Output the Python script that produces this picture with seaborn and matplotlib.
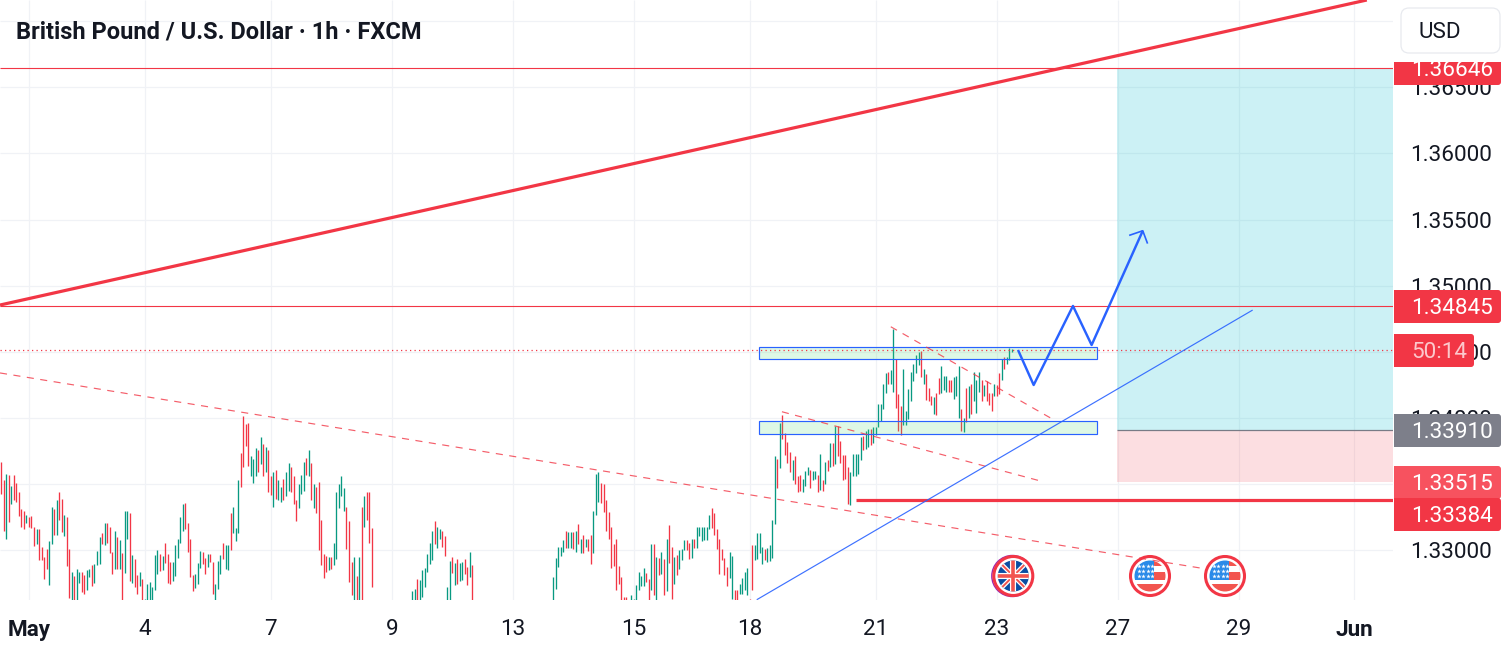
import matplotlib
matplotlib.use("Agg")
import matplotlib.pyplot as plt
from matplotlib.patches import Circle, FancyBboxPatch, Rectangle
import pandas as pd
import seaborn as sns

sns.set_theme(style="white")
plt.rcParams["font.family"] = ["Roboto", "DejaVu Sans"]
plt.rcParams["lines.solid_capstyle"] = "butt"

TEXT = "#131722"
RED = "#f23645"
GREEN = "#089981"
BLUE = "#2962ff"
GRID = "#f0f2f6"
LABEL_SIZE = 16.2

# hourly bars: pips above 1.33000, R/G = direction
start_a = 0
high_a = [66.5, 53, 58, 57, 49, 57, 51, 44.5, 31, 30, 27, 25, 26, 18, 16, 16, 2.5, -5, 1, 7, 32.5, 31, 38, 44.5, 39, 26.5, 25, 1, -16, -19,
          -14, -16, -16, -18.5, -15, -14, -11, -10, -0.5, 10, 13, 21, 20.5, 17.5, -1, 15, 10, 8, -2, 30, 29.5, 28, -3.5, -6.5, -18.5, -16, -21.5, -36.5, -25, -24,
          -27.5, -3.5, 0, -3, -4, 6, -3, -9, -9, 4, 9, 25, 35, 35.5, 21, 9, -18.5, -18, -9.5, -0.5, -1, -6, -3, -3, -9, -25, -8, -3.5, 5.5, 4,
          4, 28, 33, 17, 53.5, 74, 101.5, 95.5, 96, 71.5, 69, 77.5, 76, 86, 80.5, 78, 76, 56, 59.5, 61, 53, 48, 54, 59.5, 66, 63, 56.5, 38.5, 50.5, 57,
          67, 70, 76, 66, 50.5, 48, 52, 23, -3, -4, -5, -5, 6, 44, 50.5, 56, 47, 32.5, 22, -9, -5, -19, -5, 32.5, 41.5, 44, 44.5, 17, -15, -33]
low_a = [42.5, 15, 9, 21.5, 35, 38, 36.5, 26, 18, 16, 21, 18, 17, 3.5, 5, -7, -7, -21.5, -14, -26, 5, 12, 11.5, 23, 14, 11, -12, -36, -42, -42,
         -42, -24.5, -31, -33, -30, -20, -27, -24.5, -11, -10, 5, 4, 5.5, -2, -18, -14, -14, -14, -42, -17, 9, -23, -24.5, -27.5, -33, -27, -42, -42, -42, -42,
         -42, -30, -18, -15.5, -15, -9.5, -24.5, -25, -23, -19, -6, 5.5, 15, 16, -1, -20, -30.5, -28, -25, -13, -10, -18, -12.5, -9, -33, -42, -29, -18, -6.5, -14,
         -15, 0, 13, 7, 13, 48, 63, 79, 64, 56, 51, 56, 59, 65, 56, 59.5, 44, 42, 32.5, 39, 38, 37, 38, 41.5, 45, 44, 35, 22, 32, 43,
         45, 57, 56.5, 38, 32, 28, 0, -11, -21, -16, -15, -14, -11, -6.5, 32, 41, 30, 1, -24, -33.5, -42, -42, -42, -42, 18, 23, 6, -27.5, -42, -42]
dir_a = ("RRGRGRRRRRGRRRGRRRRGGRGRRGRRGRGGRRGGRGGGRGRRRGRGRGGRGRRGRGGGGGGRGRRRGGGGGRRRRGGGRRGRRGGGRGGRG"
         "GGRRRRGGGRGRGRRGRGGRGGRRRGGGRGRGRRRRRGRGGGGGRRRGRGRGRRR")

start_b = 163
high_b = [-30.5, -29, -21.5, -22, -15, -13, -3, 6, 15, 22, 17.5, 16.5, 15, 11, -27.5, -8, -5, -9.5, -6.5, -9.5, -9, -6.5, -12.5, -1, -11]
low_b = [-42, -42, -42, -42, -35, -27.5, -16, -10, -7, 5, 2, 9, 2.5, -4, -42, -42, -17, -26, -25, -23, -22, -18, -26, -20, -42]
dir_b = "GGRGGGGGGRGGRRGGRGRGGRRGR"

start_c = 219
high_c = [-20, -6, 3, 2.5, 8, 15, 14, 14, 14, 15, 20, 9, 11.5, 9, 8.5, 11.5, 30, 58, 59.5, 51, 50, 38.5, 29, 18, 5, 9, -12, -20, -35, -35,
          -38, -34, -37, -26, -16, -19, -13, -17, -21.5, 5, 5, -5, -6, -1, -6.5, 8.5, 19, 3, -5, -3.5, 0, 1, 8, 8, 5.5, 8.5, 9, 17.5, 18, 17.5,
          17.5, 18, 27, 32, 28, 16, 8.5, 1, -6, -12.5, -1, -4, -30, -30, -25, -21, -16, -13, -37, 4, 4, 13, 13, 3, 1, 2, 4]
low_c = [-42, -29, -12.5, -4, -1, 2, 2, 2, 1, -1, 5, -2, -2, 2.5, -0.5, -10, -2, 26.5, 37, 35.5, 29, 15, 9, -13, -12, -30, -25, -42, -42, -42,
         -42, -42, -42, -42, -30, -27, -27, -23.5, -42, -30, -33.5, -42, -18.5, -18, -33.5, -30.5, -9.5, -36.5, -25, -18.5, -14, -7, 0, 0, -6.5, -6, 2, 2, 11, 7,
         8, 8, 16, 17, 11.5, 1, -18, -7, -18.5, -27, -21, -37, -42, -42, -33, -33, -30, -34, -42, -30, -7, -6.5, -2, -10, -7, -9, -8]
dir_c = ("GGGGGRGGRGRGRGRRGGGRRRRRRRRRRRGGGGGGGRRGRGRGRGRRGRGGGRRGRGGGGGGRRRRRRRGGRRGGGGRRGGGGRGGGG")[:87]

start_d = 306
high_d = [23, 71.5, 69, 96.5, 102, 89, 82, 74.5, 68.5, 71.5, 56.5, 57, 54, 60, 63, 61, 60, 60, 57, 73, 53.5, 67, 68.5, 81, 81, 94, 94, 83, 72, 72,
          63, 59, 73, 73, 73, 86, 86.5, 90, 92, 92, 93, 93, 110.5, 111, 125.5, 134, 134.5, 136, 167, 145, 118, 109, 137, 105, 122, 135, 141, 148, 150, 151,
          137, 133.5, 122.5, 117, 116, 119, 130, 139, 131.5, 132, 129, 129, 131, 131.5, 139, 107, 100, 122.5, 124, 126, 135, 128.5, 135, 129, 125, 128, 119, 119, 125.5, 125,
          134, 145, 146.5, 146.5, 153, 152]
low_d = [-6, 20, 47.5, 62, 84, 72, 66, 59.5, 53, 50, 44.5, 45, 44, 49, 57, 47.5, 53, 54, 44, 46, 45, 50.5, 60, 63, 64, 65, 71.5, 66, 53, 54,
         35, 34, 56, 56.5, 58, 68.5, 76, 77, 78, 80, 81, 87, 93, 98, 107, 119, 125.5, 125.5, 120, 108, 90, 87, 95, 95, 99, 113, 128, 134, 140, 131,
         125.5, 114, 113, 110, 103, 102, 118, 119, 121.5, 120, 120, 120, 114.5, 117, 100, 90, 89.5, 97, 100, 103, 113, 104, 120, 113, 116.5, 113, 110, 105, 116.5, 117,
         118, 128.5, 137, 141, 144, 150]
dir_d = ("GGRGRRRRGRRRGGGRGGRGRGRGRGRRRR"
         "RGGGGGRGGRGGGGGGRGGRRRGGGGGGGRGRR"
         "RGRRGGGRRGGGRGRGRGGGRGRRRGRRGR"
         "GGGGGR")[:96]

# price levels and drawings (bar number, price)
stop_level = 1.33515
entry_level = 1.33910
target_level = 1.36646
resistance_level = 1.34845
support_level = 1.33384
live_price = 1.34511
rising_bars = [-0.5, 541.9]
rising_prices = [1.34854, 1.37158]
dash_long_bars = [-0.5, 475.7]
dash_long_prices = [1.34341, 1.32868]
dash_mid_bars = [309.8, 411.6]
dash_mid_prices = [1.34048, 1.33529]
dash_top_bars = [353, 418.5]
dash_top_prices = [1.34690, 1.33978]
blue_bars = [299.8, 496.6]
blue_prices = [1.32628, 1.34816]
path_bars = [403.5, 409.7, 425.3, 432.7, 453]
path_prices = [1.34514, 1.34250, 1.34847, 1.34552, 1.35415]
head_bars = [447.6, 453, 454.9]
head_prices = [1.35380, 1.35415, 1.35318]
zone_bars = [300.8, 434.9]
zone_bottoms = [1.34444, 1.33878]
zone_tops = [1.34535, 1.33976]
support_start = 339.2
position_start = 442.9

x_ticks = [11, 57, 107, 155, 203, 251, 297, 347, 395, 443, 491, 537]
x_labels = ["May", "4", "7", "9", "13", "15", "18", "21", "23", "27", "29", "Jun"]
y_ticks = [1.33, 1.335, 1.34, 1.345, 1.35, 1.355, 1.36, 1.365, 1.37]

x_min, x_max = -0.5, 552.3
y_min, y_max = 1.32626, 1.37158

rows = []
for start, highs, lows, dirs in [(start_a, high_a, low_a, dir_a), (start_b, high_b, low_b, dir_b),
                                 (start_c, high_c, low_c, dir_c), (start_d, high_d, low_d, dir_d)]:
    for i, (h, l, d) in enumerate(zip(highs, lows, dirs)):
        rows.append({"bar": start + i, "price": 1.33 + h / 1e4, "dir": d})
        rows.append({"bar": start + i, "price": 1.33 + l / 1e4, "dir": d})
bars = pd.DataFrame(rows)

fig = plt.figure(figsize=(15.09, 6.53), dpi=100, facecolor="white")
ax = fig.add_axes([0, 53 / 653, 1393 / 1509, 600 / 653])

sns.lineplot(data=bars, x="bar", y="price", hue="dir", units="bar", estimator=None, sort=False,
             palette={"R": RED, "G": GREEN}, linewidth=0.95, legend=False, ax=ax, zorder=3)


def draw_line(xs, ys, color, lw, ls="-", alpha=1.0, z=5):
    sns.lineplot(x=xs, y=ys, color=color, linewidth=lw, linestyle=ls, alpha=alpha,
                 estimator=None, sort=False, ax=ax, zorder=z)


# position tool
ax.add_patch(Rectangle((position_start, entry_level), x_max - position_start, target_level - entry_level,
                       facecolor=(0, 188 / 255, 205 / 255, 0.2), edgecolor="none", zorder=4))
ax.add_patch(Rectangle((position_start, stop_level), x_max - position_start, entry_level - stop_level,
                       facecolor=(242 / 255, 54 / 255, 69 / 255, 0.16), edgecolor="none", zorder=4))
draw_line([position_start, x_max], [entry_level, entry_level], "#787b86", 0.9)

# zones
for lo, hi in zip(zone_bottoms, zone_tops):
    ax.add_patch(Rectangle((zone_bars[0], lo), zone_bars[1] - zone_bars[0], hi - lo,
                           facecolor=(76 / 255, 217 / 255, 115 / 255, 0.18), edgecolor=BLUE, linewidth=0.85, zorder=5))

draw_line([x_min, x_max], [target_level, target_level], RED, 0.8)
draw_line([x_min, x_max], [resistance_level, resistance_level], RED, 0.8)
draw_line([x_min, x_max], [live_price, live_price], RED, 0.9, ls=(0, (1, 2.6)))
draw_line(rising_bars, rising_prices, RED, 2.3)
draw_line([support_start, x_max], [support_level, support_level], RED, 2.3)
draw_line(dash_long_bars, dash_long_prices, RED, 0.85, ls=(0, (6, 5.5)), alpha=0.8)
draw_line(dash_mid_bars, dash_mid_prices, RED, 0.85, ls=(0, (6, 5.5)), alpha=0.8)
draw_line(dash_top_bars, dash_top_prices, RED, 0.85, ls=(0, (6, 5.5)), alpha=0.8)
draw_line(blue_bars, blue_prices, BLUE, 0.85, alpha=0.9)
draw_line(path_bars, path_prices, BLUE, 1.75)
draw_line(head_bars, head_prices, BLUE, 1.2)

ax.set_xlim(x_min, x_max)
ax.set_ylim(y_min, y_max)
ax.set_xlabel("")
ax.set_ylabel("")
ax.set_xticks(x_ticks)
ax.set_xticklabels(x_labels)
ax.set_yticks(y_ticks)
ax.set_yticklabels([f"{v:.5f}" for v in y_ticks])
ax.yaxis.tick_right()
ax.tick_params(axis="x", length=0, pad=13.5, labelsize=LABEL_SIZE, labelcolor=TEXT)
ax.tick_params(axis="y", length=0, pad=12.5, labelsize=LABEL_SIZE, labelcolor=TEXT)
for lab in ax.get_xticklabels():
    if lab.get_text() in ("May", "Jun"):
        lab.set_fontweight("bold")
for lab in ax.get_yticklabels():
    lab.set_y(lab.get_position()[1])
ax.grid(True, color=GRID, linewidth=0.9, zorder=0)
ax.set_axisbelow(True)
for spine in ax.spines.values():
    spine.set_visible(False)

# overlay in pixels for the price tags, header and event icons
over = fig.add_axes([0, 0, 1, 1], zorder=5)
over.set_xlim(0, 1509)
over.set_ylim(653, 0)
over.axis("off")

over.text(16, 32, "British Pound / U.S. Dollar · 1h · FXCM", fontsize=17.0, fontweight="bold",
          color=TEXT, va="center", ha="left")


def price_tag(top, bottom, label, color, right=1501, text_color="white"):
    over.add_patch(FancyBboxPatch((1394, top), right - 1394, bottom - top, boxstyle="round,pad=0,rounding_size=3",
                                  facecolor=color, edgecolor="none"))
    over.add_patch(Rectangle((1394, top), 10, bottom - top, facecolor=color, edgecolor="none"))
    over.text(1411, (top + bottom) / 2 + 1.5, label, fontsize=LABEL_SIZE, color=text_color, va="center", ha="left")


price_tag(53, 85, f"{target_level:.5f}", RED)
price_tag(290, 323, f"{resistance_level:.5f}", RED)
price_tag(334, 367, "50:14", RED, right=1474, text_color="#fcc8cc")
price_tag(414, 447, f"{entry_level:.5f}", "#7d7f8a")
price_tag(466, 499, f"{stop_level:.5f}", "#f7525f")
price_tag(498, 531, f"{support_level:.5f}", RED)

# top right corner sits above the target tag
over.add_patch(Rectangle((1394, 0), 115, 62, facecolor="white", edgecolor="none"))
over.add_patch(FancyBboxPatch((1401, 8), 99, 45, boxstyle="round,pad=0,rounding_size=8",
                              facecolor="white", edgecolor="#e8eaef", linewidth=0.9))
over.text(1418, 32.5, "USD", fontsize=LABEL_SIZE, color=TEXT, va="center", ha="left")


def uk_flag(cx, cy):
    over.add_patch(Circle((cx - 1, cy), 20.5, facecolor="white", edgecolor="#9c27b0", linewidth=1))
    disc = Circle((cx, cy), 15.5, facecolor="#0a4ea3", edgecolor="none")
    over.add_patch(disc)
    r = 16
    for (x0, y0, x1, y1, col, lw) in [(-r, -r, r, r, "white", 3.2), (-r, r, r, -r, "white", 3.2),
                                      (-r, -r, r, r, "#f2554f", 1.4), (-r, r, r, -r, "#f2554f", 1.4),
                                      (-r, 0, r, 0, "white", 4.4), (0, -r, 0, r, "white", 4.4),
                                      (-r, 0, r, 0, "#f2554f", 2.6), (0, -r, 0, r, "#f2554f", 2.6)]:
        line, = over.plot([cx + x0, cx + x1], [cy + y0, cy + y1], color=col, linewidth=lw)
        line.set_clip_path(disc)
    over.add_patch(Circle((cx, cy), 19.5, facecolor="none", edgecolor=RED, linewidth=2.2))


def us_flag(cx, cy):
    disc = Circle((cx, cy), 15.5, facecolor="white", edgecolor="none")
    over.add_patch(disc)
    for (x, y, w, h, col) in [(3.5, -16, 14, 5.5, "#f2554f"), (3.5, -4, 14, 8, "#f2554f"),
                              (-16, 8, 32, 8, "#f2554f"), (-16, -16, 19.5, 20, "#2a8ae8")]:
        rect = Rectangle((cx + x, cy + y), w, h, facecolor=col, edgecolor="none")
        over.add_patch(rect)
        rect.set_clip_path(disc)
    for row in (-10.5, -5.5, -0.5):
        for col in (-11.5, -7, -2.5, 1.5):
            pts = over.scatter([cx + col], [cy + row], marker="*", s=11, color="white", linewidths=0)
            pts.set_clip_path(disc)
    over.add_patch(Circle((cx, cy), 19.5, facecolor="none", edgecolor=RED, linewidth=2.2))


uk_flag(1013.3, 576)
us_flag(1150, 576)
us_flag(1225, 576)

fig.savefig("out.png", dpi=100, facecolor="white")
